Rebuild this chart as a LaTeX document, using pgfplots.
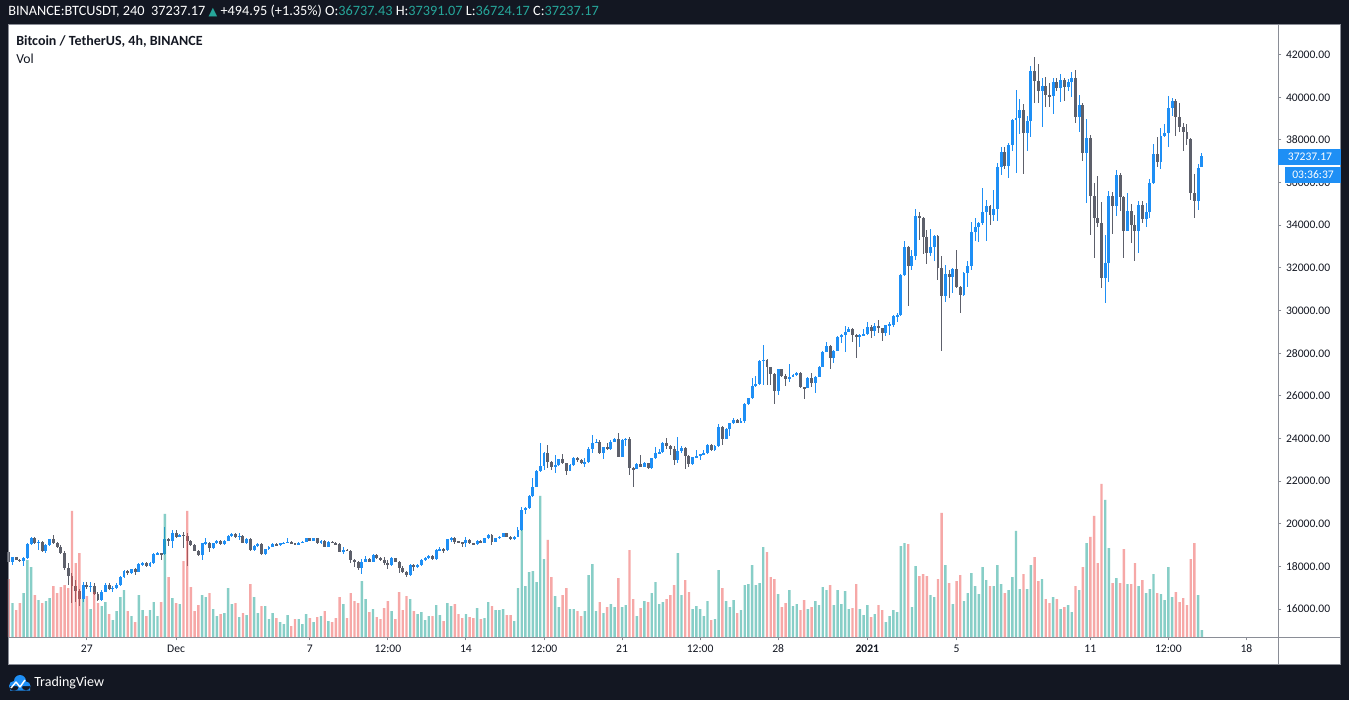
\documentclass[border=0pt]{standalone}
\usepackage{pgfplots}
\pgfplotsset{compat=1.18}
\usepackage{pgfplotstable}
\usepackage{fontspec}
\setmainfont{Carlito}
\newfontfamily\symfont{DejaVu Sans}
\definecolor{bg}{HTML}{131722}
\definecolor{upc}{HTML}{1E8FF5}
\definecolor{dnc}{HTML}{5D606B}
\definecolor{vup}{HTML}{26A69A}
\definecolor{vdn}{HTML}{EF5350}
\definecolor{txt}{HTML}{131722}
\definecolor{axg}{HTML}{8A8D96}

\pgfplotstableread{
i o h l c v
0 18660 18740 18180 18230 58
1 18230 18460 18080 18430 34
2 18430 18460 18280 18300 27
3 18300 18350 18190 18270 34
4 18270 18420 18000 18380 44
5 18380 19100 18330 19050 77
6 19050 19390 18990 19330 70
7 19330 19380 19050 19110 42
8 19110 19240 18770 19160 37
9 19160 19200 18680 18740 34
10 18740 19030 18610 19000 36
11 19000 19300 18950 19270 39
12 19270 19470 19050 19080 51
13 19080 19130 18880 18930 44
14 18930 19020 18600 18650 50
15 18650 18700 17850 17910 52
16 17910 18150 17130 17570 49
17 17570 17700 16300 17080 126
18 17080 17360 16350 16860 74
19 16860 16950 16150 16460 84
20 16460 17280 16350 17130 38
21 17130 17250 16950 17050 41
22 17050 17280 16820 17100 28
23 17100 17200 16650 16710 45
24 16710 16790 16380 16430 34
25 16430 16900 16400 16820 31
26 16820 17210 16780 17130 35
27 17130 17220 16880 16930 23
28 16930 17080 16820 17000 17
29 17000 17200 16960 17130 26
30 17130 17560 17100 17520 40
31 17520 17850 17480 17800 47
32 17800 17830 17600 17680 26
33 17680 17900 17640 17860 21
34 17860 17910 17600 17760 15
35 17760 18150 17720 18100 42
36 18100 18220 18030 18150 27
37 18150 18190 17990 18020 21
38 18020 18230 17980 18180 27
39 18180 18620 18130 18580 35
40 18580 18660 18540 18620 21
41 18620 18650 18300 18570 35
42 18570 19860 18540 19270 123
43 19270 19330 18960 19180 60
44 19180 19710 18850 19580 39
45 19580 19720 19350 19400 34
46 19400 19530 19360 19490 33
47 19490 19630 18850 19420 76
48 19420 19550 18000 19210 126
49 19210 19260 18950 19000 50
50 19000 19050 18700 18740 26
51 18740 18780 18480 18540 32
52 18540 19120 18300 19080 42
53 19080 19320 19000 19120 40
54 19120 19160 18690 18850 44
55 18850 19120 18800 19080 28
56 19080 19230 19040 19190 21
57 19190 19230 19000 19050 23
58 19050 19240 19000 19210 24
59 19210 19460 19180 19430 49
60 19430 19560 19400 19520 33
61 19520 19560 19350 19380 34
62 19380 19550 19240 19430 20
63 19430 19460 19080 19110 24
64 19110 19340 19060 19300 22
65 19300 19340 18720 18770 53
66 18770 18990 18740 18960 40
67 18960 19100 18930 19050 24
68 19050 19100 18540 18580 31
69 18580 18830 18550 18800 31
70 18800 18960 18780 18930 18
71 18930 19080 18900 19050 24
72 19050 19090 18970 19000 19
73 19000 19110 18980 19080 15
74 19080 19150 19050 19110 13
75 19110 19320 19080 19140 22
76 19140 19170 19060 19090 11
77 19090 19120 19000 19040 18
78 19040 19140 19010 19100 18
79 19100 19180 19080 19150 13
80 19150 19350 19130 19320 23
81 19320 19350 19180 19210 19
82 19210 19340 19190 19310 15
83 19310 19330 19050 19080 20
84 19080 19240 19060 19210 21
85 19210 19240 18900 18930 26
86 18930 19180 18910 19150 16
87 19150 19180 19080 19100 15
88 19100 19150 19000 19050 19
89 19050 19080 18660 18690 40
90 18690 18930 18560 18770 33
91 18770 18800 18700 18740 19
92 18740 18780 18150 18300 44
93 18300 18330 17990 18220 36
94 18220 18260 17830 17910 34
95 17910 18330 17650 18220 56
96 18220 18490 18200 18330 38
97 18330 18380 18190 18220 25
98 18220 18570 18200 18540 28
99 18540 18570 18340 18380 20
100 18380 18430 18260 18300 18
101 18300 18460 18070 18150 29
102 18150 18300 17860 18070 36
103 18070 18420 18040 18380 26
104 18380 18410 18190 18220 18
105 18220 18260 17680 17940 45
106 17940 18000 17680 17760 27
107 17760 17800 17520 17600 41
108 17600 18100 17550 18070 38
109 18070 18100 17800 17960 26
110 17960 18110 17930 18070 23
111 18070 18330 18040 18300 25
112 18300 18420 18250 18380 17
113 18380 18530 18350 18490 21
114 18490 18530 18300 18340 21
115 18340 18800 18310 18770 32
116 18770 18930 18700 18800 22
117 18800 18850 18650 18770 16
118 18770 19300 18740 19270 34
119 19270 19370 19130 19320 31
120 19320 19400 19050 19160 33
121 19160 19200 19090 19130 23
122 19130 19160 18930 19110 19
123 19110 19370 18930 19240 23
124 19240 19270 19050 19080 20
125 19080 19110 19000 19040 19
126 19040 19240 19000 19210 29
127 19210 19240 19080 19110 18
128 19110 19350 19080 19320 19
129 19320 19500 19280 19470 35
130 19470 19500 19010 19160 31
131 19160 19350 19130 19320 27
132 19320 19430 19290 19400 27
133 19400 19580 19370 19550 28
134 19550 19580 19370 19400 22
135 19400 19430 19240 19270 22
136 19270 19430 19250 19400 16
137 19400 19830 19380 19710 49
138 19710 20770 19680 20650 107
139 20650 20770 20460 20720 51
140 20720 21340 20690 21300 65
141 21300 22130 21270 21740 66
142 21740 22530 21710 22490 55
143 22490 23770 22440 22710 141
144 22710 23380 22520 23340 78
145 23340 23700 22600 22910 97
146 22910 22940 22520 22680 60
147 22680 23230 22400 22760 41
148 22760 23060 22730 23020 30
149 23020 23270 22810 22840 42
150 22840 22870 22290 22490 49
151 22490 22790 22460 22760 28
152 22760 23150 22730 23070 28
153 23070 23120 22910 23000 26
154 23000 23040 22800 22840 21
155 22840 23070 22680 22880 26
156 22880 23620 22850 23490 62
157 23490 24160 23330 23800 73
158 23800 23960 23770 23850 26
159 23850 23930 23270 23300 35
160 23300 23620 23030 23590 24
161 23590 23780 23460 23490 30
162 23490 23930 23460 23850 33
163 23850 24010 23820 23960 30
164 23960 24240 23120 23150 59
165 23150 23960 23120 23930 30
166 23930 24010 23640 23980 32
167 23980 24050 22290 22600 87
168 22600 22650 21740 22580 38
169 22580 22830 22550 22800 21
170 22800 23230 22650 22680 29
171 22680 22920 22650 22840 36
172 22840 22870 22550 22600 35
173 22600 23100 22560 23070 44
174 23070 23620 23040 23300 55
175 23300 23490 23270 23380 33
176 23380 23830 23340 23800 35
177 23800 24020 23490 23650 38
178 23650 23700 23230 23490 42
179 23490 23650 22760 22990 52
180 22990 24090 22870 23430 84
181 23430 23650 23330 23570 42
182 23570 23600 22560 23180 57
183 23180 23210 22650 22800 45
184 22800 23150 22760 23120 28
185 23120 23460 23100 23180 31
186 23180 23290 22990 23260 28
187 23260 23460 23230 23300 21
188 23300 23730 23270 23700 36
189 23700 23730 23430 23460 17
190 23460 23680 23430 23650 18
191 23650 24680 23620 24560 67
192 24560 24590 23700 23990 49
193 23990 24490 23960 24460 36
194 24460 24740 24120 24710 30
195 24710 24950 24680 24870 37
196 24870 24900 24710 24740 24
197 24740 24950 24710 24840 27
198 24840 25650 24710 25620 52
199 25620 25910 25590 25880 53
200 25880 26820 25850 26460 72
201 26460 26930 26430 26560 52
202 26560 27680 26510 27650 54
203 27650 28390 26510 27680 90
204 27680 27710 26510 27340 85
205 27340 27370 26510 27030 60
206 27030 27060 25620 26240 58
207 26240 27270 26040 27240 43
208 27240 27270 26900 26930 30
209 26930 27010 26460 26810 34
210 26810 27490 26670 26900 47
211 26900 27010 26870 26980 31
212 26980 27120 26950 27090 33
213 27090 27120 26370 26400 27
214 26400 26430 25840 26380 37
215 26380 26880 26350 26850 28
216 26850 27060 26400 26590 30
217 26590 26930 26150 26900 36
218 26900 27400 26870 27370 32
219 27370 28100 27340 28070 50
220 28070 28540 28040 28340 47
221 28340 28390 27240 27760 52
222 27760 28150 27520 28120 32
223 28120 28810 28090 28780 47
224 28780 28880 28490 28850 33
225 28850 29280 28070 29010 46
226 29010 29250 28980 29140 28
227 29140 29170 28540 28850 29
228 28850 28880 27790 28740 53
229 28740 28880 28280 28850 28
230 28850 29120 28820 28900 22
231 28900 29450 28870 29250 32
232 29250 29340 28730 29060 20
233 29060 29400 28830 29290 23
234 29290 29560 28960 29170 32
235 29170 29200 28590 28960 27
236 28960 29330 28820 29320 15
237 29320 29480 28860 29340 21
238 29340 29780 29220 29750 27
239 29750 29870 29480 29770 25
240 29770 31700 29740 31670 91
241 31670 33260 31620 33000 94
242 33000 33030 30220 32110 93
243 32110 32840 31900 32560 30
244 32560 34760 32370 34440 71
245 34440 34610 33310 34360 61
246 34360 34390 32650 33470 63
247 33470 33780 32190 32720 61
248 32720 33830 32540 32970 42
249 32970 33550 32340 33510 40
250 33510 33540 31440 32010 58
251 32010 32560 28080 30690 124
252 30690 32140 30420 31720 72
253 31720 31900 30580 31590 54
254 31590 31980 30810 31950 33
255 31950 32840 31050 31090 56
256 31090 31150 29870 30730 62
257 30730 31830 30700 31780 36
258 31780 32340 31090 32090 44
259 32090 34170 31900 33690 64
260 33690 34330 33280 33910 51
261 33910 34170 33230 34120 43
262 34120 35750 34010 34610 70
263 34610 35190 33280 34910 57
264 34910 34940 34010 34480 51
265 34480 35650 34220 34750 51
266 34750 36940 34220 36750 72
267 36750 37690 36360 37420 53
268 37420 37690 36620 36780 44
269 36780 37880 36230 37770 47
270 37770 38970 37480 38940 60
271 38940 40340 36440 39020 106
272 39020 39920 38280 39410 48
273 39410 39690 36410 38310 63
274 38310 39130 37480 38890 48
275 38890 41470 38160 41240 72
276 41240 41910 39720 40780 80
277 40780 41560 39720 40310 56
278 40310 40890 38590 40530 58
279 40530 40940 39560 40110 38
280 40110 40660 39560 40050 34
281 40050 40900 39210 40700 40
282 40700 40900 40300 40450 38
283 40450 41100 39800 40800 28
284 40800 40900 39840 40500 30
285 40500 40850 40300 40700 32
286 40700 41200 40000 40900 25
287 40900 41300 38810 39090 51
288 39090 40110 38390 39640 47
289 39640 39720 37030 37410 70
290 37410 38970 35060 38080 94
291 38080 38230 33550 35370 100
292 35370 36000 32480 34330 121
293 34330 36310 33940 34120 74
294 34120 35110 31080 31540 153
295 31540 33550 30370 32220 137
296 32220 35620 31360 35370 89
297 35370 35580 33590 34900 54
298 34900 36590 34440 36360 59
299 36360 36470 34690 35340 54
300 35340 35370 32480 33750 88
301 33750 35530 33720 34690 53
302 34690 35000 33190 34000 53
303 34000 34480 32340 33750 74
304 33750 35160 32720 34950 51
305 34950 35160 34120 34300 57
306 34300 35030 33940 34620 44
307 34620 36190 34360 35980 48
308 35980 37810 35950 37340 63
309 37340 38160 36720 36980 44
310 36980 38550 36620 38190 43
311 38190 38750 38150 38310 37
312 38310 40060 37660 39500 70
313 39500 39970 39130 39830 40
314 39830 39910 38190 39090 45
315 39090 39720 38390 38620 35
316 38620 38780 37500 38390 39
317 38390 38750 37770 38050 32
318 38050 38080 35190 35530 78
319 35530 36410 34360 35160 94
320 35160 36880 34720 36690 42
321 36737.43 37391.07 36724.17 37237.17 7
}\candles

\pgfplotsset{
  base/.style={
    at={(6pt,47.25pt)}, anchor=south west, scale only axis,
    width=952.5pt, height=459pt,
    xmin=-0.215, xmax=341.49,
    clip=false,
  },
  upsel/.style={restrict expr to domain={\thisrow{c}-\thisrow{o}}{0:1000000}},
  dnsel/.style={restrict expr to domain={\thisrow{c}-\thisrow{o}}{-1000000:-0.001}},
  candle/.style 2 args={draw=none, mark=none, no markers,
    error bars/.cd, y dir=both, y explicit, error mark=none,
    error bar style={line width=#2, draw=#1, line cap=butt, solid}},
}

\begin{document}
\begin{tikzpicture}
\begin{scope}[x=0.75pt,y=0.75pt]
\fill[bg] (0,0) rectangle (1349,700);
\fill[white] (8,36) rectangle (1340,675);
\end{scope}

\begin{axis}[base,
  ymin=14690, ymax=43393,
  axis line style={draw=none},
  tick align=outside, major tick length=2.5pt,
  tick style={axg, line width=0.75pt},
  xtick pos=bottom, ytick pos=right, yticklabel pos=right,
  xtick={21,45,81,102,123,144,165,186,207,231,255,291,312,333},
  xticklabels={27,Dec,7,12:00,14,12:00,21,12:00,28,\textbf{2021},5,11,12:00,18},
  ytick={16000,18000,...,42000},
  tick label style={font=\fontsize{8.7pt}{10pt}\selectfont, text=txt},
  yticklabel style={/pgf/number format/.cd, fixed, fixed zerofill, precision=2, 1000 sep={}, assume math mode=true},
  scaled y ticks=false,
]
% wicks
\addplot[upsel, candle={upc}{0.75pt}]
  table[x=i, y expr={(\thisrow{h}+\thisrow{l})/2}, y error expr={(\thisrow{h}-\thisrow{l})/2}] {\candles};
\addplot[dnsel, candle={dnc}{0.75pt}]
  table[x=i, y expr={(\thisrow{h}+\thisrow{l})/2}, y error expr={(\thisrow{h}-\thisrow{l})/2}] {\candles};
% bodies
\addplot[upsel, candle={upc}{2.2pt}]
  table[x=i, y expr={(\thisrow{o}+\thisrow{c})/2}, y error expr={max(abs(\thisrow{c}-\thisrow{o})/2,25)}] {\candles};
\addplot[dnsel, candle={dnc}{2.2pt}]
  table[x=i, y expr={(\thisrow{o}+\thisrow{c})/2}, y error expr={max(abs(\thisrow{c}-\thisrow{o})/2,25)}] {\candles};
\end{axis}

\begin{axis}[base, ymin=0, ymax=612, hide axis]
\addplot[ybar, bar shift=0pt, bar width=1.8pt, fill=vup, fill opacity=0.55, draw=none, upsel]
  table[x=i, y=v] {\candles};
\addplot[ybar, bar shift=0pt, bar width=1.8pt, fill=vdn, fill opacity=0.5, draw=none, dnsel]
  table[x=i, y=v] {\candles};
\end{axis}

\begin{scope}[x=0.75pt,y=0.75pt]
% frame lines
\draw[axg, line width=0.75pt] (8,36) rectangle (1340,675);
\draw[axg, line width=0.75pt] (1278,36) -- (1278,675);
\draw[axg, line width=0.75pt] (8,63) -- (1340,63);
% header
\node[anchor=west, inner sep=0, text=white, font=\fontsize{10.7pt}{12pt}\selectfont] at (8,689)
  {BINANCE:BTCUSDT, 240\ \ 37237.17 {\color{vup}\symfont\fontsize{8.5pt}{9pt}\selectfont ▲} +494.95 (+1.35\%) O:{\color{vup}36737.43} H:{\color{vup}37391.07} L:{\color{vup}36724.17} C:{\color{vup}37237.17}};
% title
\node[anchor=west, inner sep=0, text=txt, font=\bfseries\fontsize{10.5pt}{12pt}\selectfont] at (16,658) {Bitcoin / TetherUS, 4h, BINANCE};
\node[anchor=west, inner sep=0, text=txt, font=\fontsize{10.3pt}{12pt}\selectfont] at (16,641) {Vol};
% last price labels
\fill[upc] (1278,535) rectangle (1341,551);
\node[text=white, inner sep=0, font=\fontsize{8.7pt}{10pt}\selectfont] at (1310,543) {37237.17};
\fill[upc] (1285,517) rectangle (1341,533);
\node[text=white, inner sep=0, font=\fontsize{8.7pt}{10pt}\selectfont] at (1313,525) {03:36:37};
% TradingView logo
\fill[upc] (14,14) circle (5) (20,19) circle (6) (26,14) circle (4.5) (10,9.5) rectangle (30,14);
\draw[white, line width=1.1pt, line join=round] (11,12) -- (16,18) -- (20,13) -- (25,20);
\node[anchor=west, inner sep=0, text=white, font=\fontsize{10.5pt}{12pt}\selectfont] at (34,17) {TradingView};
\end{scope}
\pgfresetboundingbox
\useasboundingbox (0,0) rectangle (1011.75pt,525pt);
\end{tikzpicture}
\end{document}
